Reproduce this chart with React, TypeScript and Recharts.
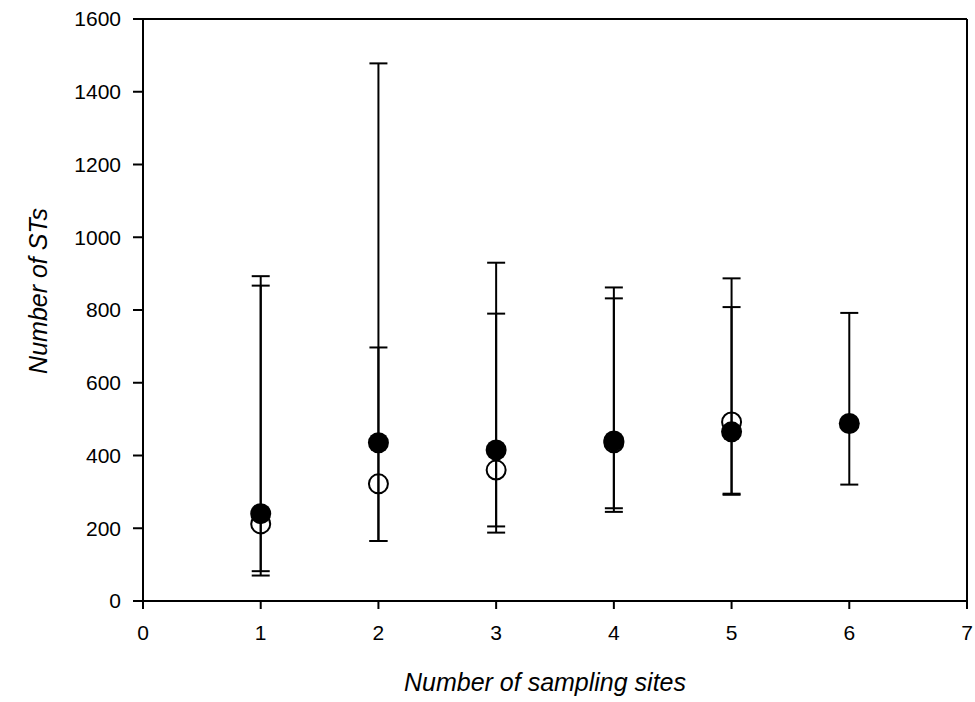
import { ScatterChart, Scatter, XAxis, YAxis, ErrorBar, ReferenceLine } from 'recharts'

// x positions (number of sampling sites)
const sites = [1, 2, 3, 4, 5, 6]

// filled circles: mean and min/max range
const filledMean = [240, 435, 415, 440, 465, 488]
const filledLow = [82, 165, 205, 255, 292, 320]
const filledHigh = [893, 1478, 930, 862, 887, 792]

// open circles (none at 6 sites)
const openSites = [1, 2, 3, 4, 5]
const openMean = [212, 322, 360, 435, 492]
const openLow = [70, 165, 188, 245, 295]
const openHigh = [867, 697, 790, 832, 808]

const xTicks = [0, 1, 2, 3, 4, 5, 6, 7]
const yTicks = [0, 200, 400, 600, 800, 1000, 1200, 1400, 1600]

const FONT = '"Liberation Sans", Arial, sans-serif'

const filledData = sites.map((x, i) => ({
  x,
  y: filledMean[i],
  err: [filledMean[i] - filledLow[i], filledHigh[i] - filledMean[i]],
}))

const openData = openSites.map((x, i) => ({
  x,
  y: openMean[i],
  err: [openMean[i] - openLow[i], openHigh[i] - openMean[i]],
}))

const FilledDot = (p: any) => <circle cx={p.cx} cy={p.cy} r={10.5} fill="#000" />
const OpenDot = (p: any) => (
  <circle cx={p.cx} cy={p.cy} r={9.5} fill="none" stroke="#000" strokeWidth={2} />
)

const XLabel = (props: any) => {
  const vb = props.viewBox
  return (
    <text
      x={vb.x + vb.width / 2 - 10}
      y={vb.y + 90}
      textAnchor="middle"
      fontFamily={FONT}
      fontStyle="italic"
      fontSize={25}
      fill="#000"
    >
      Number of sampling sites
    </text>
  )
}

const YLabel = (props: any) => {
  const vb = props.viewBox
  const x = vb.x + 47
  const y = vb.y + vb.height / 2 - 19
  return (
    <text
      x={x}
      y={y}
      transform={`rotate(-90, ${x}, ${y})`}
      textAnchor="middle"
      fontFamily={FONT}
      fontStyle="italic"
      fontSize={25}
      fill="#000"
    >
      Number of STs
    </text>
  )
}

const tickStyle = { fontSize: 21, fill: '#000', fontFamily: FONT }

export default function App() {
  return (
    <div style={{ position: 'absolute', left: 0, top: 0, background: '#fff' }}>
      <ScatterChart width={975} height={702} margin={{ top: 19, right: 8, bottom: 0, left: 0 }}>
        <XAxis
          type="number"
          dataKey="x"
          domain={[0, 7]}
          ticks={xTicks}
          height={101}
          tick={tickStyle}
          tickSize={8}
          tickMargin={16}
          axisLine={{ stroke: '#000', strokeWidth: 2 }}
          tickLine={{ stroke: '#000', strokeWidth: 2 }}
          label={XLabel}
        />
        <YAxis
          type="number"
          dataKey="y"
          domain={[0, 1600]}
          ticks={yTicks}
          width={143}
          tick={tickStyle}
          tickSize={10}
          tickMargin={12}
          axisLine={{ stroke: '#000', strokeWidth: 2 }}
          tickLine={{ stroke: '#000', strokeWidth: 2 }}
          label={YLabel}
        />
        <ReferenceLine y={1600} stroke="#000" strokeWidth={2} />
        <ReferenceLine x={7} stroke="#000" strokeWidth={2} />
        <Scatter data={openData} shape={OpenDot} isAnimationActive={false}>
          <ErrorBar dataKey="err" direction="y" width={9} stroke="#000" strokeWidth={2} isAnimationActive={false} />
        </Scatter>
        <Scatter data={filledData} shape={FilledDot} isAnimationActive={false}>
          <ErrorBar dataKey="err" direction="y" width={9} stroke="#000" strokeWidth={2} isAnimationActive={false} />
        </Scatter>
      </ScatterChart>
    </div>
  )
}
